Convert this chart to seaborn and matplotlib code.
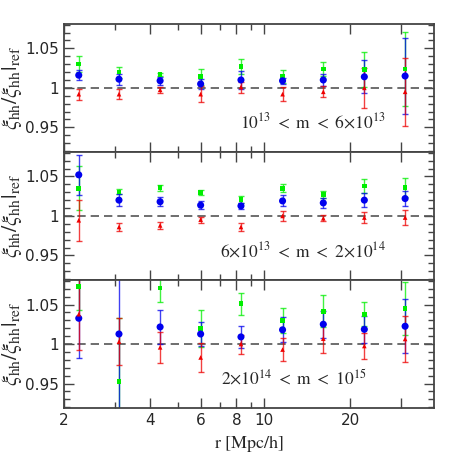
import numpy as np
import pandas as pd
import matplotlib
matplotlib.use("Agg")
import matplotlib.pyplot as plt
import seaborn as sns

# separation bins [Mpc/h]
r = [2.25, 3.11, 4.33, 6.0, 8.3, 11.6, 16.1, 22.4, 31.1]

# panel 1: 1e13 < m < 6e13
p1_green = [1.030, 1.020, 1.017, 1.014, 1.027, 1.014, 1.024, 1.023, 1.024]
p1_green_err = [0.010, 0.007, 0.002, 0.010, 0.010, 0.008, 0.009, 0.022, 0.047]
p1_blue = [1.016, 1.011, 1.009, 1.005, 1.010, 1.009, 1.010, 1.014, 1.015]
p1_blue_err = [0.006, 0.007, 0.005, 0.006, 0.011, 0.004, 0.008, 0.021, 0.048]
p1_red = [0.992, 0.992, 0.9975, 0.992, 1.001, 0.992, 0.995, 1.000, 0.995]
p1_red_err = [0.007, 0.006, 0.004, 0.010, 0.007, 0.009, 0.007, 0.025, 0.043]

# panel 2: 6e13 < m < 2e14
p2_green = [1.035, 1.0305, 1.0356, 1.030, 1.021, 1.035, 1.027, 1.038, 1.036]
p2_green_err = [0.028, 0.003, 0.004, 0.003, 0.004, 0.005, 0.004, 0.009, 0.012]
p2_blue = [1.052, 1.020, 1.018, 1.0136, 1.0127, 1.019, 1.0165, 1.020, 1.022]
p2_blue_err = [0.025, 0.008, 0.006, 0.005, 0.004, 0.007, 0.006, 0.009, 0.009]
p2_red = [0.9945, 0.986, 0.988, 0.9953, 0.986, 1.000, 0.997, 0.998, 0.998]
p2_red_err = [0.026, 0.005, 0.004, 0.004, 0.005, 0.006, 0.004, 0.007, 0.010]

# panel 3: 2e14 < m < 1e15
p3_green = [1.073, 0.9525, 1.0707, 1.0195, 1.051, 1.030, 1.0415, 1.0377, 1.045]
p3_green_err = [0.030, 0.080, 0.018, 0.023, 0.014, 0.016, 0.020, 0.015, 0.034]
p3_blue = [1.0326, 1.0127, 1.0216, 1.0127, 1.009, 1.018, 1.025, 1.0186, 1.0225]
p3_blue_err = [0.050, 0.100, 0.022, 0.015, 0.014, 0.016, 0.017, 0.017, 0.034]
p3_red = [1.0377, 1.003, 0.9958, 0.983, 1.000, 0.993, 1.0068, 0.9975, 1.0064]
p3_red_err = [0.045, 0.030, 0.020, 0.018, 0.012, 0.014, 0.018, 0.017, 0.029]

labels = [r"$10^{13}\ <\ \mathrm{m}\ <\ 6{\times}10^{13}$",
          r"$6{\times}10^{13}\ <\ \mathrm{m}\ <\ 2{\times}10^{14}$",
          r"$2{\times}10^{14}\ <\ \mathrm{m}\ <\ 10^{15}$"]
label_x = [0.868, 0.868, 0.816]

panels = [
    [(p1_green, p1_green_err), (p1_blue, p1_blue_err), (p1_red, p1_red_err)],
    [(p2_green, p2_green_err), (p2_blue, p2_blue_err), (p2_red, p2_red_err)],
    [(p3_green, p3_green_err), (p3_blue, p3_blue_err), (p3_red, p3_red_err)],
]
series = ["green", "blue", "red"]
colors = {"green": "#00ee00", "blue": "#0000ee", "red": "#ee0000"}
markers = {"green": "s", "blue": "o", "red": "^"}
sizes = {"green": 11, "blue": 26, "red": 11}

rows = []
for p, pan in enumerate(panels):
    for name, (vals, errs) in zip(series, pan):
        for x, v, e in zip(r, vals, errs):
            rows.append(dict(panel=p, series=name, r=x, ratio=v, err=e))
df = pd.DataFrame(rows)

sns.set_style("ticks")
plt.rcParams["mathtext.fontset"] = "stix"
plt.rcParams["font.family"] = ["DejaVu Sans"]

fig, axes = plt.subplots(3, 1, figsize=(4.58, 4.58), dpi=100, sharex=True)
fig.subplots_adjust(left=0.14, right=0.948, top=0.948, bottom=0.109, hspace=0)

for p, ax in enumerate(axes):
    sub = df[df.panel == p]
    ax.axhline(1.0, color="#555555", ls=(0, (5, 3)), lw=1.2, zorder=1)
    for name in series:
        s = sub[sub.series == name]
        ax.errorbar(s.r, s.ratio, yerr=s.err, fmt="none", ecolor=colors[name],
                    elinewidth=1.0, capsize=2.5, capthick=1.0, alpha=0.75, zorder=2)
    for name in series:
        s = sub[sub.series == name]
        sns.scatterplot(data=s, x="r", y="ratio", ax=ax, color=colors[name],
                        marker=markers[name], s=sizes[name], edgecolor="none",
                        legend=False, zorder=3)
    ax.set_xscale("log")
    ax.set_xlim(2, 39.3)
    ax.set_ylim(0.919, 1.081)
    ax.set_yticks([0.95, 1.0, 1.05])
    ax.set_yticklabels(["0.95", "1", "1.05"])
    ax.set_yticks(np.arange(0.92, 1.081, 0.01), minor=True)
    ax.set_xticks([2, 4, 6, 8, 10, 20, 30])
    ax.set_xticklabels(["2", "4", "6", "8", "10", "20", ""])
    ax.set_xticks([3, 5, 7, 9], minor=True)
    ax.xaxis.set_minor_formatter(matplotlib.ticker.NullFormatter())
    ax.tick_params(which="both", direction="in", top=True, right=True,
                   color="#444444", labelsize=11)
    ax.tick_params(which="major", length=7, width=1.0)
    ax.tick_params(which="minor", length=4, width=1.0)
    for sp in ax.spines.values():
        sp.set_color("#444444")
        sp.set_linewidth(1.3)
    ax.set_ylabel(r"$\xi_{\rm hh}/\xi_{\rm hh}|_{\rm ref}$", fontsize=16, labelpad=1)
    ax.set_xlabel("")
    ax.text(label_x[p], 0.23, labels[p], transform=ax.transAxes, ha="right",
            va="center", fontsize=12.5)

axes[-1].set_xlabel(r"$\mathrm{r\ [Mpc/h]}$", fontsize=13)

fig.savefig("out.png", dpi=100)
